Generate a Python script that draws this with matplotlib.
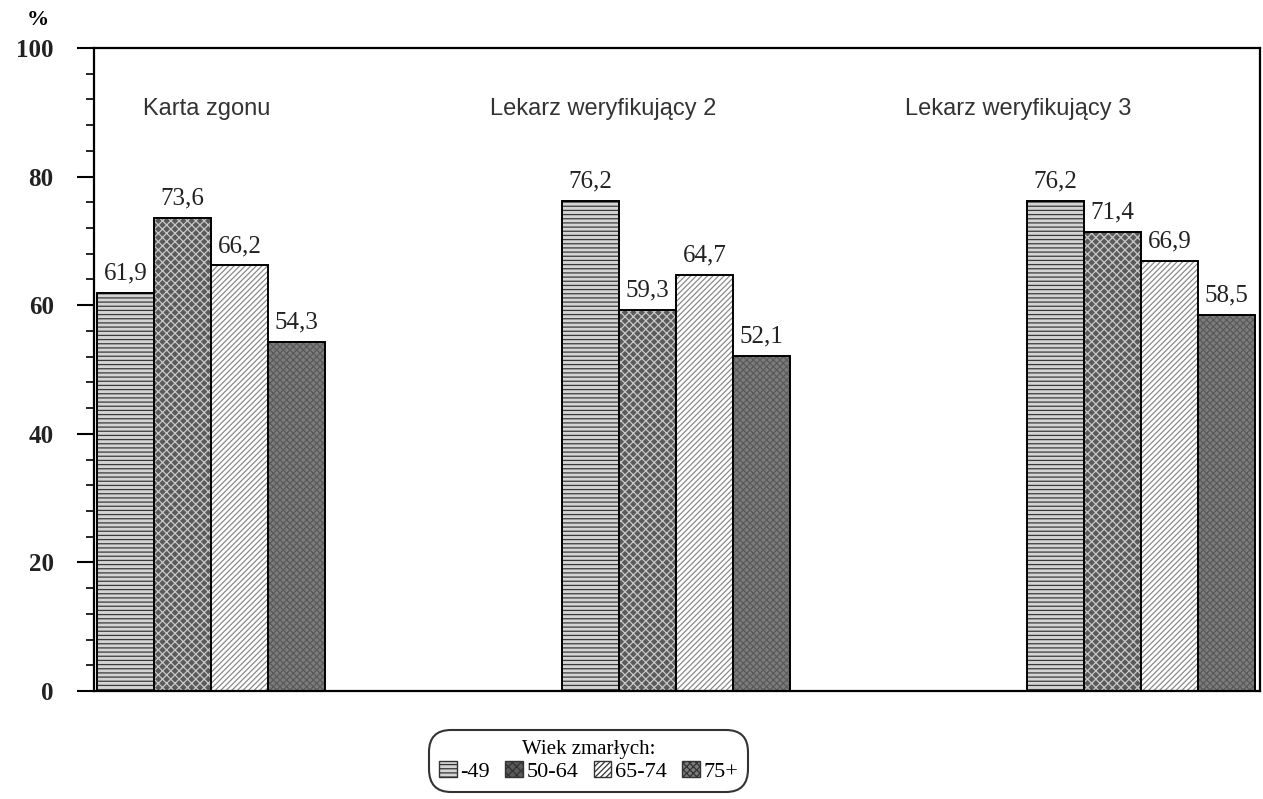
import numpy as np
import matplotlib
matplotlib.use("Agg")
import matplotlib.pyplot as plt
from matplotlib.patches import Patch

groups = ["Karta zgonu", "Lekarz weryfikujący 2", "Lekarz weryfikujący 3"]
age_groups = ["-49", "50-64", "65-74", "75+"]
v_49 = [61.9, 76.2, 76.2]
v_50_64 = [73.6, 59.3, 71.4]
v_65_74 = [66.2, 64.7, 66.9]
v_75 = [54.3, 52.1, 58.5]
series = [v_49, v_50_64, v_65_74, v_75]

# face colour, hatch, hatch colour
styles = [("#d4d4d4", "----", "#3a3a3a"),
          ("#5a5a5a", "xxxx", "#c8c8c8"),
          ("#ffffff", "//////", "#8a8a8a"),
          ("#7c7c7c", "xxxxx", "#5a5a5a")]

plt.rcParams["hatch.linewidth"] = 0.9
serif = "Liberation Serif"
sans = "Liberation Sans"

fig = plt.figure(figsize=(12.63, 7.99), dpi=100)
ax = fig.add_axes([0.0744, 0.1352, 0.9232, 0.8047])

x = np.arange(len(groups))
w = 0.1226
offsets = (np.arange(4) - 1.5) * w

for i, vals in enumerate(series):
    fc, hatch, hc = styles[i]
    ax.bar(x + offsets[i], vals, w, color=fc, hatch=hatch, edgecolor=hc, linewidth=0)
    ax.bar(x + offsets[i], vals, w, fill=False, edgecolor="black", linewidth=1.4)
    for xi, v in zip(x + offsets[i], vals):
        ax.text(xi, v + 1.3, f"{v:.1f}".replace(".", ","), ha="center", va="bottom",
                fontsize=18, family=serif, color="#222222")

title_x = [-0.146, 0.6, 1.493]
for tx, g in zip(title_x, groups):
    ax.text(tx, 90.5, g, ha="left", va="center", fontsize=17, family=sans, color="#333333")

ax.set_xlim(-0.2516, 2.256)
ax.set_ylim(0, 100)
ax.set_xticks([])
ax.set_yticks(np.arange(0, 101, 20))
ax.set_yticks(np.arange(0, 101, 4), minor=True)
ax.tick_params(axis="y", which="major", length=12, width=1.5, pad=17, direction="out")
ax.tick_params(axis="y", which="minor", length=6, width=1.2, direction="out")
for lab in ax.get_yticklabels():
    lab.set_fontfamily(serif)
    lab.set_fontsize(18)
    lab.set_fontweight("bold")
    lab.set_color("#222222")
for s in ax.spines.values():
    s.set_linewidth(1.6)

fig.text(0.021, 0.975, "%", fontsize=16, family=serif, fontweight="bold", va="center")

handles = [Patch(facecolor=fc, hatch=h, edgecolor="#333333", linewidth=1.0)
           for fc, h, hc in styles]
leg = fig.legend(handles, age_groups, title="Wiek zmarłych:", ncol=4, loc="center",
                 bbox_to_anchor=(0.466, 0.048), fancybox=True, frameon=True,
                 handlelength=0.8, handleheight=0.7, handletextpad=0.15, columnspacing=0.7,
                 prop={"family": serif, "size": 16}, borderpad=0.25, labelspacing=0.1,
                 borderaxespad=0)
leg.get_title().set_fontfamily(serif)
leg.get_title().set_fontsize(15)
leg.get_frame().set_edgecolor("black")
leg.get_frame().set_linewidth(1.5)
leg.get_frame().set_boxstyle("round,pad=0.2,rounding_size=1.0")

fig.savefig("out.png", dpi=100)
